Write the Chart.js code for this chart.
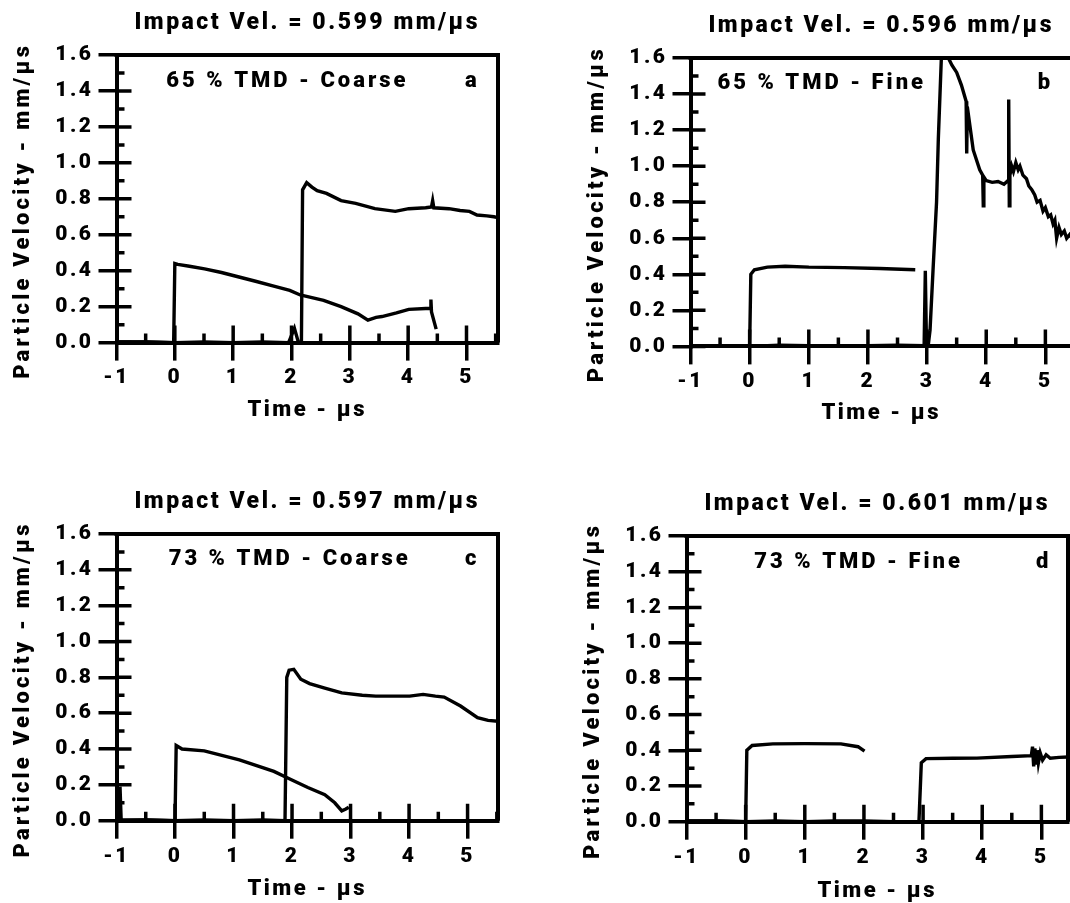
<!DOCTYPE html>
<html>
<head>
<meta charset="utf-8">
<script src="https://cdn.jsdelivr.net/npm/chart.js@4.4.1/dist/chart.umd.min.js"></script>
<style>
  html, body { margin: 0; padding: 0; background: #fff; }
  body { width: 1070px; height: 903px; overflow: hidden; position: relative; }
  canvas { position: absolute; }
</style>
</head>
<body>
<canvas id="pa" width="518" height="440" style="left:0px;top:0px"></canvas>
<canvas id="pb" width="518" height="440" style="left:574px;top:3px"></canvas>
<canvas id="pc" width="518" height="440" style="left:0px;top:479px"></canvas>
<canvas id="pd" width="518" height="440" style="left:570px;top:481px"></canvas>
<script>
// axis ticks
const xTicks = [-1, 0, 1, 2, 3, 4, 5];
const xMinor = [-0.5, 0.5, 1.5, 2.5, 3.5, 4.5, 5.5];
const yTicks = [0, 0.2, 0.4, 0.6, 0.8, 1.0, 1.2, 1.4, 1.6];
const yMinor = [0.1, 0.3, 0.5, 0.7, 0.9, 1.1, 1.3, 1.5];

const titles = ['Impact Vel. = 0.599 mm/µs', 'Impact Vel. = 0.596 mm/µs',
                'Impact Vel. = 0.597 mm/µs', 'Impact Vel. = 0.601 mm/µs'];
const notes = ['65 % TMD - Coarse', '65 % TMD - Fine', '73 % TMD - Coarse', '73 % TMD - Fine'];
const letters = ['a', 'b', 'c', 'd'];
const xTitle = 'Time - µs';
const yTitle = 'Particle Velocity - mm/µs';

// a : 65 % TMD coarse
const timeA1 = [-1, -0.5, -0.02, 0, 0.05, 0.25, 0.51, 0.8, 1.1, 1.4, 1.68, 1.97, 2.15, 2.35, 2.55, 2.85, 3.14, 3.31, 3.45, 3.55, 3.8, 4.01, 4.30, 4.38, 4.39, 4.40, 4.48];
const velA1  = [0.004, 0.004, 0.0, 0.44, 0.435, 0.425, 0.41, 0.39, 0.365, 0.34, 0.315, 0.29, 0.265, 0.25, 0.235, 0.2, 0.16, 0.125, 0.14, 0.145, 0.165, 0.185, 0.19, 0.19, 0.24, 0.17, 0.075];
const timeA2 = [-1, -0.5, 0, 0.5, 1, 1.5, 1.95, 2.05, 2.12, 2.17, 2.19, 2.26, 2.35, 2.44, 2.6, 2.85, 3.1, 3.43, 3.78, 4.01, 4.3, 4.40, 4.42, 4.44, 4.7, 4.89, 5.05, 5.18, 5.35, 5.47, 5.54];
const velA2  = [0.004, 0.004, 0.0, 0.004, 0.0, 0.004, 0.0, 0.08, 0.0, 0.0, 0.85, 0.89, 0.865, 0.845, 0.83, 0.79, 0.775, 0.745, 0.73, 0.745, 0.75, 0.755, 0.79, 0.75, 0.745, 0.735, 0.73, 0.71, 0.705, 0.70, 0.695];

// b : 65 % TMD fine
const timeB1 = [-1, -0.5, 0, 0.02, 0.08, 0.3, 0.6, 1.0, 1.6, 2.2, 2.8];
const velB1  = [0.004, 0.004, 0.0, 0.40, 0.425, 0.44, 0.445, 0.44, 0.437, 0.432, 0.425];
const timeB2 = [-1, -0.5, 0, 0.5, 1, 1.5, 2, 2.5, 2.95, 2.97, 2.99, 3.01, 3.05, 3.10, 3.16, 3.19, 3.24, 3.28,
                3.33, 3.42, 3.50, 3.58, 3.66, 3.67, 3.68, 3.78, 3.89, 3.94, 3.95, 3.96, 4.0, 4.1, 4.2, 4.3, 4.37, 4.38, 4.39, 4.40,
                4.43, 4.46, 4.50, 4.54, 4.57, 4.62, 4.68, 4.72, 4.77, 4.82, 4.86, 4.91, 4.96, 5.0, 5.05, 5.09, 5.13, 5.16, 5.19, 5.23,
                5.27, 5.32, 5.36, 5.41, 5.45];
const velB2  = [0.004, 0.004, 0.0, 0.006, 0.004, 0.004, 0.004, 0.006, 0.004, 0.42, 0.0, -0.02, 0.09, 0.42, 0.80, 1.15, 1.59, 1.72,
                1.62, 1.56, 1.52, 1.45, 1.36, 1.07, 1.33, 1.09, 0.98, 0.95, 0.78, 0.94, 0.92, 0.91, 0.915, 0.90, 0.92, 1.37, 0.78, 0.95,
                1.0, 0.97, 1.02, 0.98, 1.0, 0.95, 0.93, 0.89, 0.87, 0.84, 0.80, 0.81, 0.75, 0.77, 0.72, 0.73, 0.68, 0.70, 0.60, 0.66,
                0.62, 0.64, 0.60, 0.62, 0.60];

// c : 73 % TMD coarse
const timeC1 = [-1, -0.95, -0.94, -0.92, -0.5, 0, 0.02, 0.12, 0.5, 1.1, 1.69, 1.98, 2.27, 2.56, 2.73, 2.85, 2.92, 2.97];
const velC1  = [0.004, 0.0, 0.19, 0.0, 0.004, 0.0, 0.42, 0.40, 0.39, 0.34, 0.275, 0.23, 0.185, 0.145, 0.10, 0.055, 0.065, 0.075];
const timeC2 = [-1, -0.5, 0, 0.5, 1, 1.5, 1.88, 1.91, 1.95, 2.03, 2.15, 2.3, 2.56, 2.85, 3.2, 3.43, 3.8, 4.01, 4.24, 4.45, 4.6, 4.88, 5.17, 5.35, 5.52];
const velC2  = [0.004, 0.004, 0.0, 0.004, 0.0, 0.004, 0.0, 0.80, 0.84, 0.845, 0.79, 0.765, 0.74, 0.713, 0.70, 0.695, 0.695, 0.695, 0.705, 0.695, 0.69, 0.64, 0.575, 0.56, 0.555];

// d : 73 % TMD fine
const timeD1 = [-1, -0.5, 0, 0.02, 0.11, 0.46, 1.0, 1.61, 1.90, 2.01];
const velD1  = [0.004, 0.004, 0.0, 0.40, 0.427, 0.436, 0.437, 0.436, 0.42, 0.395];
const timeD2 = [-1, -0.5, 0, 0.5, 1, 1.5, 2, 2.5, 2.93, 2.97, 3.05, 3.5, 3.91, 4.5, 4.83, 4.85, 4.87, 4.89, 4.91, 4.93, 4.95, 4.98, 5.02, 5.08, 5.15, 5.3, 5.45];
const velD2  = [0.004, 0.004, 0.0, 0.004, 0.0, 0.004, 0.004, 0.0, 0.0, 0.33, 0.353, 0.355, 0.356, 0.365, 0.37, 0.42, 0.31, 0.41, 0.32, 0.40, 0.33, 0.385, 0.345, 0.375, 0.355, 0.36, 0.362];

const FONT = 'Roboto, "Liberation Sans", Arial, sans-serif';
const WEIGHT = '900';
Chart.defaults.font.family = FONT;
Chart.defaults.color = '#000';

// per panel layout
const panels = [
  { id: 'pa', xMax: 5.54, plotH: 287.6, noteAt: [1.93, 1.45], letterAt: [5.1, 1.45],  series: [[timeA1, velA1], [timeA2, velA2]] },
  { id: 'pb', xMax: 5.45, plotH: 288.4, noteAt: [1.22, 1.46], letterAt: [5.0, 1.46],  series: [[timeB1, velB1], [timeB2, velB2]] },
  { id: 'pc', xMax: 5.52, plotH: 286.7, noteAt: [1.96, 1.455], letterAt: [5.08, 1.455], series: [[timeC1, velC1], [timeC2, velC2]] },
  { id: 'pd', xMax: 5.45, plotH: 285.7, noteAt: [1.91, 1.45], letterAt: [5.04, 1.45], series: [[timeD1, velD1], [timeD2, velD2]] },
];

const pts = (ts, vs) => ts.map((t, i) => ({ x: t, y: vs[i] }));

// box, inner ticks, labels inside the frame and the rotated y title
const framePlugin = {
  id: 'frame',
  beforeDraw(chart) { chart.ctx.letterSpacing = '2.5px'; },
  afterDraw(chart, args, opts) {
    const { ctx, chartArea: a } = chart;
    const x = chart.scales.x, y = chart.scales.y;
    ctx.save();
    ctx.strokeStyle = '#000';
    ctx.lineWidth = 4;
    ctx.beginPath();
    ctx.moveTo(a.left - 2, a.top);
    ctx.lineTo(a.right, a.top);
    ctx.lineTo(a.right, a.bottom);
    ctx.stroke();

    ctx.lineWidth = 3.5;
    ctx.beginPath();
    yTicks.forEach(v => { const p = y.getPixelForValue(v); ctx.moveTo(a.left, p); ctx.lineTo(a.left + 15, p); });
    yMinor.forEach(v => { const p = y.getPixelForValue(v); ctx.moveTo(a.left, p); ctx.lineTo(a.left + 8, p); });
    xTicks.forEach(v => {
      if (v <= x.min) return;
      const p = x.getPixelForValue(v); ctx.moveTo(p, a.bottom); ctx.lineTo(p, a.bottom - 17);
    });
    xMinor.forEach(v => {
      if (v >= x.max) return;
      const p = x.getPixelForValue(v); ctx.moveTo(p, a.bottom); ctx.lineTo(p, a.bottom - 9);
    });
    ctx.stroke();

    ctx.fillStyle = '#000';
    ctx.font = `${WEIGHT} 22px ${FONT}`;
    ctx.letterSpacing = '3px';
    ctx.textAlign = 'center';
    ctx.textBaseline = 'middle';
    ctx.fillText(opts.note, x.getPixelForValue(opts.noteAt[0]), y.getPixelForValue(opts.noteAt[1]));
    ctx.fillText(opts.letter, x.getPixelForValue(opts.letterAt[0]), y.getPixelForValue(opts.letterAt[1]));

    ctx.letterSpacing = '3.2px';
    ctx.translate(a.left - 93.5, (a.top + a.bottom) / 2 + 12);
    ctx.rotate(-Math.PI / 2);
    ctx.fillText(yTitle, 0, 0);
    ctx.restore();
  }
};

panels.forEach((p, i) => {
  new Chart(document.getElementById(p.id), {
    type: 'line',
    data: {
      datasets: p.series.map(([ts, vs]) => ({
        data: pts(ts, vs),
        borderColor: '#000',
        borderWidth: 3.4,
        pointRadius: 0,
        fill: false,
        tension: 0,
      })),
    },
    options: {
      responsive: false,
      animation: false,
      layout: { padding: { right: 20 } },
      plugins: {
        legend: { display: false },
        tooltip: { enabled: false },
        title: {
          display: true,
          text: titles[i],
          fullSize: false,
          color: '#000',
          font: { size: 23, weight: WEIGHT },
          padding: { top: 9.5, bottom: 17.9 },
        },
        frame: { note: notes[i], letter: letters[i], noteAt: p.noteAt, letterAt: p.letterAt },
      },
      scales: {
        x: {
          type: 'linear',
          min: -1,
          max: p.xMax,
          afterBuildTicks: s => { s.ticks = xTicks.map(v => ({ value: v })); },
          afterFit: s => { s.height = 440 - 55 - p.plotH; },
          ticks: { color: '#000', padding: 5, font: { size: 21, weight: WEIGHT }, callback: v => String(v) },
          grid: { drawOnChartArea: false, drawTicks: true, tickLength: 18, lineWidth: 3.5, color: '#000' },
          border: { display: true, width: 4, color: '#000' },
          title: { display: true, text: xTitle, color: '#000', font: { size: 22, weight: WEIGHT }, padding: { top: 0, bottom: 16.8 } },
        },
        y: {
          min: 0,
          max: 1.6,
          afterBuildTicks: s => { s.ticks = yTicks.map(v => ({ value: v })); },
          afterFit: s => { s.width = 116.5; },
          ticks: { color: '#000', padding: 5, font: { size: 21, weight: WEIGHT }, callback: v => v.toFixed(1) },
          grid: { drawOnChartArea: false, drawTicks: true, tickLength: 18, lineWidth: 3.5, color: '#000' },
          border: { display: true, width: 4, color: '#000' },
        },
      },
    },
    plugins: [framePlugin],
  });
});
</script>
</body>
</html>
